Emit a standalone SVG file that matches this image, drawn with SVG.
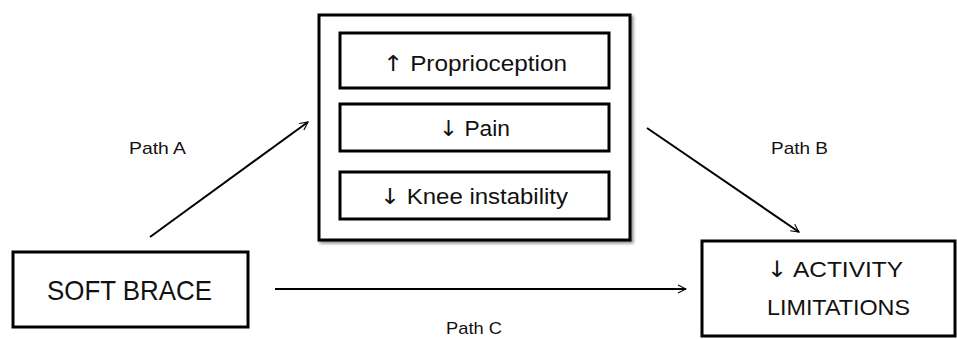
<svg xmlns="http://www.w3.org/2000/svg" width="957" height="339" viewBox="0 0 957 339">
  <style>
    .box { fill: #fff; stroke: #000; stroke-width: 3; }
    .lbl { font-family: "Liberation Sans", Arial, sans-serif; fill: #111; }
    .ar { font-family: "DejaVu Sans", sans-serif; }
    .path { font-size: 17px; }
    .edge { stroke: #000; stroke-width: 2; fill: none; marker-end: url(#arr); }
  </style>
  <defs>
    <marker id="arr" viewBox="0 0 20 20" refX="18" refY="10" markerWidth="10" markerHeight="10" markerUnits="userSpaceOnUse" orient="auto">
      <path d="M2,2 L18,10 L2,18" fill="none" stroke="#000" stroke-width="2.2"/>
    </marker>
    <filter id="sh" x="-5%" y="-5%" width="115%" height="115%">
      <feGaussianBlur in="SourceAlpha" stdDeviation="1.5"/>
      <feOffset dx="2" dy="2" result="b"/>
      <feComponentTransfer><feFuncA type="linear" slope="0.45"/></feComponentTransfer>
      <feMerge><feMergeNode/><feMergeNode in="SourceGraphic"/></feMerge>
    </filter>
  </defs>
  <rect width="957" height="339" fill="#fff"/>

  <g id="mediators">
    <rect x="319" y="15" width="311" height="225" class="box" stroke-width="3.5" filter="url(#sh)"/>
    <g id="proprioception">
      <rect x="340" y="33" width="269" height="55" class="box"/>
      <text x="475" y="71" class="lbl" font-size="22" text-anchor="middle" textLength="184" lengthAdjust="spacingAndGlyphs"><tspan class="ar">↑</tspan> Proprioception</text>
    </g>
    <g id="pain">
      <rect x="340" y="104" width="269" height="47" class="box"/>
      <text x="474.5" y="136" class="lbl" font-size="22" text-anchor="middle" textLength="71" lengthAdjust="spacingAndGlyphs"><tspan class="ar">↓</tspan> Pain</text>
    </g>
    <g id="instability">
      <rect x="340" y="172" width="269" height="47" class="box"/>
      <text x="474" y="204" class="lbl" font-size="22" text-anchor="middle" textLength="188" lengthAdjust="spacingAndGlyphs"><tspan class="ar">↓</tspan> Knee instability</text>
    </g>
  </g>

  <g id="soft-brace">
    <rect x="13" y="252" width="235" height="75" class="box"/>
    <text x="129.5" y="300" class="lbl" font-size="28" text-anchor="middle" textLength="165" lengthAdjust="spacingAndGlyphs">SOFT BRACE</text>
  </g>

  <g id="activity">
    <rect x="702" y="241" width="253" height="95" class="box"/>
    <text x="835" y="277" class="lbl" font-size="22.5" text-anchor="middle" textLength="136" lengthAdjust="spacingAndGlyphs"><tspan class="ar">↓</tspan> ACTIVITY</text>
    <text x="838.5" y="315" class="lbl" font-size="22.5" text-anchor="middle" textLength="143" lengthAdjust="spacingAndGlyphs">LIMITATIONS</text>
  </g>

  <g id="connectors">
    <line x1="150" y1="237" x2="308" y2="122" class="edge"/>
    <line x1="647" y1="128" x2="799" y2="232" class="edge"/>
    <line x1="275" y1="289" x2="686" y2="289" class="edge"/>
    <text x="129" y="154" class="lbl path" textLength="57" lengthAdjust="spacingAndGlyphs">Path A</text>
    <text x="771" y="154" class="lbl path" textLength="57" lengthAdjust="spacingAndGlyphs">Path B</text>
    <text x="446" y="334" class="lbl path" font-size="16" textLength="56" lengthAdjust="spacingAndGlyphs">Path C</text>
  </g>
</svg>
